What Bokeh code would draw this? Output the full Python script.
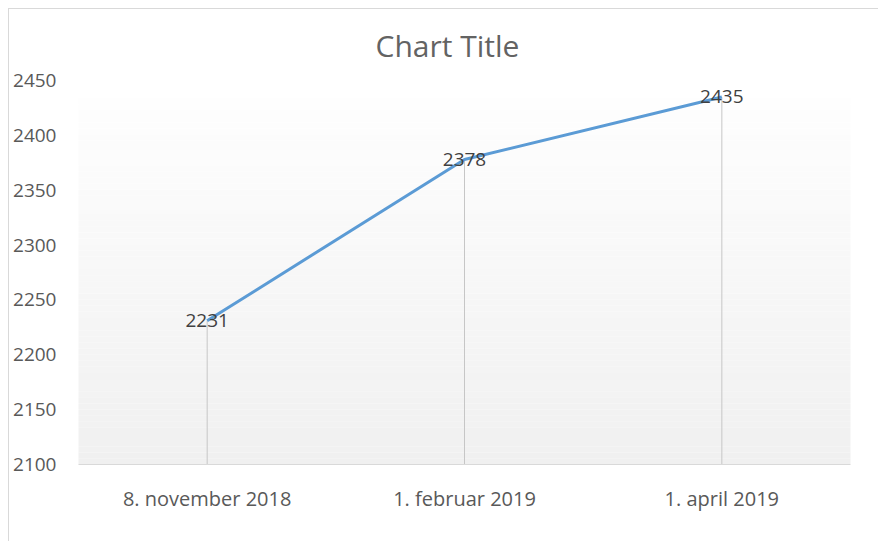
from bokeh.plotting import figure
from bokeh.models import FactorRange, Range1d, FixedTicker, ColumnDataSource
from bokeh.embed import file_html
from bokeh.resources import INLINE

categories = ["8. november 2018", "1. februar 2019", "1. april 2019"]
values = [2231, 2378, 2435]
y_ticks = [2100, 2150, 2200, 2250, 2300, 2350, 2400, 2450]
y_min, y_max = 2100, 2450
title_text = "Chart Title"

FONT = "Open Sans"
TEXT_GREY = "#595959"

p = figure(
    width=870, height=533,
    x_range=FactorRange(factors=categories, range_padding=0),
    y_range=Range1d(y_min, y_max),
    output_backend="svg", toolbar_location=None,
    min_border_left=69, min_border_right=29, min_border_top=71, min_border_bottom=78,
)
p.styles = {"border-top": "1px solid #d9d9d9", "border-left": "1px solid #d9d9d9",
            "margin-top": "8px", "margin-left": "8px"}
p.outline_line_color = None
p.background_fill_color = "white"
p.border_fill_color = "white"
p.xgrid.visible = False
p.ygrid.visible = False

p.title.text = title_text
p.title.align = "left"
p.title.offset = 297
p.title.vertical_align = "top"
p.title.text_font = FONT
p.title.text_font_size = "30px"
p.title.text_font_style = "normal"
p.title.text_color = "#636363"
p.title.standoff = 26

# gradient plot-area background (white at top to light grey at bottom)
n_bands = 60
grad_top = 2434.0
bottoms, tops, colors = [], [], []
for i in range(n_bands):
    b = y_min + (grad_top - y_min) * i / n_bands
    t = y_min + (grad_top - y_min) * (i + 1) / n_bands
    frac = (i + 0.5) / n_bands
    c = int(round(240 + (254 - 240) * frac))
    bottoms.append(b)
    tops.append(t + 0.01)
    colors.append("#%02x%02x%02x" % (c, c, c))
p.quad(left=-0.005, right=len(categories) + 0.008, bottom=bottoms, top=tops,
       fill_color=colors, line_color=None)

src = ColumnDataSource(dict(x=categories, y=values, base=[y_min] * len(values),
                            label=[str(v) for v in values]))

# drop lines
p.segment(x0="x", y0="y", x1="x", y1="base", source=src, line_color="#c6c6c6", line_width=1)

# series line
p.line(x="x", y="y", source=src, line_color="#5b9bd5", line_width=3)

# data labels
p.text(x="x", y="y", text="label", source=src, text_align="center", text_baseline="middle",
       text_font_size="19px", text_color="#404040", text_font={"value": FONT})

# axes
p.yaxis.ticker = FixedTicker(ticks=y_ticks)
p.yaxis.axis_line_color = None
p.yaxis.major_tick_line_color = None
p.yaxis.minor_tick_line_color = None
p.yaxis.major_tick_in = 0
p.yaxis.major_tick_out = 0
p.yaxis.major_label_standoff = 22
p.yaxis.major_label_text_font = FONT
p.yaxis.major_label_text_font_size = "19px"
p.yaxis.major_label_text_color = TEXT_GREY

p.xaxis.axis_line_color = "#d9d9d9"
p.xaxis.axis_line_width = 1
p.xaxis.major_tick_line_color = None
p.xaxis.major_tick_in = 0
p.xaxis.major_tick_out = 0
p.xaxis.major_label_standoff = 20
p.xaxis.major_label_text_font = FONT
p.xaxis.major_label_text_font_size = "20px"
p.xaxis.major_label_text_color = TEXT_GREY

open("out.html", "w").write(file_html(p, INLINE))
